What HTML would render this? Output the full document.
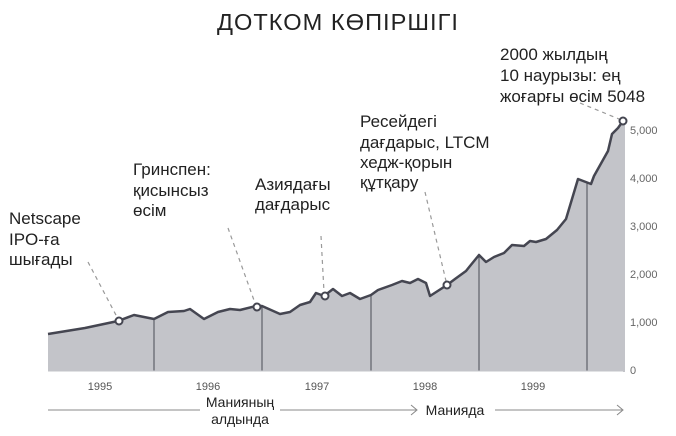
<!DOCTYPE html>
<html><head><meta charset="utf-8"><style>
html,body{margin:0;padding:0;background:#fff;}
svg{display:block;}
text{font-family:"Liberation Sans","DejaVu Sans",sans-serif;fill:#222;}
</style></head><body>
<svg width="676" height="436" viewBox="0 0 676 436" xmlns="http://www.w3.org/2000/svg">
<text x="338" y="30" text-anchor="middle" font-size="23" textLength="242" lengthAdjust="spacingAndGlyphs" style="letter-spacing:1px">ДОТКОМ КӨПІРШІГІ</text>
<path d="M48,334 L85,328 L118,321 L134,315 L154,319 L168,312 L184,311 L190,309 L204,319 L218,312 L230,309 L240,310 L256,306 L262,306 L280,314 L290,312 L300,305 L310,302 L316,293 L324,296 L333,289 L342,296 L350,293 L360,299 L371,295 L378,290 L392,285 L402,281 L410,283 L418,279 L426,283 L430,296 L447,285 L455,279 L466,271 L470,266 L479,255 L486,262 L494,257 L504,253 L512,245 L524,246 L530,241 L536,242 L546,239 L557,230 L566,219 L578,179 L591,184 L594,176 L608,151 L612,134 L618,128 L623,121 L623,371 L48,371 Z" fill="#c3c4c9"/>
<g stroke="#4a4b55" stroke-width="1"><line x1="154" y1="319" x2="154" y2="371"/><line x1="262" y1="306" x2="262" y2="371"/><line x1="371" y1="295" x2="371" y2="371"/><line x1="479" y1="255" x2="479" y2="371"/><line x1="587" y1="182" x2="587" y2="371"/></g>
<line x1="624" y1="121" x2="624" y2="372" stroke="#c3c4c9" stroke-width="2"/>
<line x1="48" y1="371" x2="624" y2="371" stroke="#c3c4c9" stroke-width="1"/>
<path d="M48,334 L85,328 L118,321 L134,315 L154,319 L168,312 L184,311 L190,309 L204,319 L218,312 L230,309 L240,310 L256,306 L262,306 L280,314 L290,312 L300,305 L310,302 L316,293 L324,296 L333,289 L342,296 L350,293 L360,299 L371,295 L378,290 L392,285 L402,281 L410,283 L418,279 L426,283 L430,296 L447,285 L455,279 L466,271 L470,266 L479,255 L486,262 L494,257 L504,253 L512,245 L524,246 L530,241 L536,242 L546,239 L557,230 L566,219 L578,179 L591,184 L594,176 L608,151 L612,134 L618,128 L623,121" fill="none" stroke="#454651" stroke-width="2.5" stroke-linejoin="round"/>
<g stroke="#999" stroke-width="1.2" stroke-dasharray="4,4" fill="none">
<line x1="88" y1="262" x2="117" y2="317"/><line x1="228" y1="228" x2="255" y2="303"/><line x1="321" y1="236" x2="324" y2="292"/><line x1="425" y1="192" x2="446" y2="281"/><line x1="580" y1="103" x2="619" y2="119"/></g>
<g fill="#fff" stroke="#454651" stroke-width="2"><circle cx="119" cy="321" r="3.5"/><circle cx="257" cy="307" r="3.5"/><circle cx="325" cy="296" r="3.5"/><circle cx="447" cy="285" r="3.5"/><circle cx="623" cy="121" r="3.5"/></g>
<g font-size="11"><text x="630" y="134" style="fill:#666">5,000</text><text x="630" y="182" style="fill:#666">4,000</text><text x="630" y="230" style="fill:#666">3,000</text><text x="630" y="278" style="fill:#666">2,000</text><text x="630" y="326" style="fill:#666">1,000</text><text x="630" y="374" style="fill:#666">0</text></g>
<g font-size="11" text-anchor="middle"><text x="100" y="390" style="fill:#555">1995</text><text x="208" y="390" style="fill:#555">1996</text><text x="317" y="390" style="fill:#555">1997</text><text x="425" y="390" style="fill:#555">1998</text><text x="533" y="390" style="fill:#555">1999</text></g>
<g stroke="#888" stroke-width="1" fill="none"><line x1="48" y1="410" x2="416" y2="410"/><polyline points="411,405 417,410 411,415"/><line x1="495" y1="410" x2="622" y2="410"/><polyline points="617,405 623,410 617,415"/></g>
<rect x="200" y="396" width="80" height="32" fill="#fff"/>
<rect x="418" y="400" width="74" height="20" fill="#fff"/>
<g font-size="14" text-anchor="middle"><text x="240" y="407">Манияның</text><text x="240" y="424">алдында</text><text x="455" y="415">Манияда</text></g>
<g font-size="17">
<text x="9" y="224">Netscape</text><text x="9" y="245">IPO-ға</text><text x="9" y="265">шығады</text>
<text x="133" y="175">Гринспен:</text><text x="133" y="196">қисынсыз</text><text x="133" y="216">өсім</text>
<text x="255" y="190">Азиядағы</text><text x="255" y="210">дағдарыс</text>
<text x="360" y="127">Ресейдегі</text><text x="360" y="148">дағдарыс, LTCM</text><text x="360" y="168">хедж-қорын</text><text x="360" y="188">құтқару</text>
<text x="500" y="60">2000 жылдың</text><text x="500" y="81">10 наурызы: ең</text><text x="500" y="102">жоғарғы өсім 5048</text>
</g>
</svg>
</body></html>
